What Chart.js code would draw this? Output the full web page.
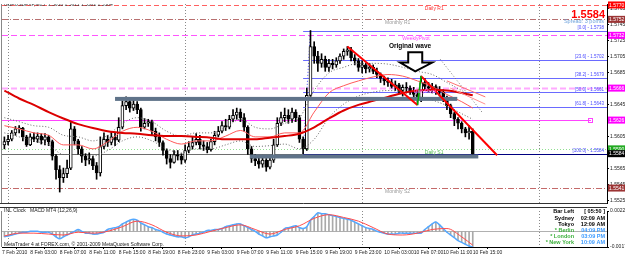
<!DOCTYPE html>
<html>
<head>
<meta charset="utf-8">
<title>GBPUSD M15</title>
<script src="https://cdn.jsdelivr.net/npm/chart.js@4.4.1/dist/chart.umd.min.js"></script>
<style>
  html, body { margin: 0; padding: 0; background: #fff; }
  #wrap { position: relative; width: 625px; height: 257px; overflow: hidden; background: #fff; }
  canvas { position: absolute; left: 0; }
  #priceChart { top: 0; }
  #macdChart { top: 207px; }
</style>
</head>
<body>
<div id="wrap">
  <canvas id="priceChart" width="625" height="207"></canvas>
  <canvas id="macdChart" width="625" height="50"></canvas>
</div>
<script>
// ---- data (one candle per half hour, x = bar index) ----
const candleOpen = [
  1.5595,1.5599,1.5602,1.5610,1.5615,1.5616,1.5605,1.5595,1.5605,1.5602,
  1.5606,1.5601,1.5605,1.5599,1.5581,1.5564,1.5554,1.5559,1.5566,1.5615,
  1.5600,1.5590,1.5581,1.5576,1.5578,1.5569,1.5560,1.5593,1.5602,1.5598,
  1.5605,1.5601,1.5617,1.5644,1.5649,1.5641,1.5646,1.5639,1.5617,1.5622,
  1.5624,1.5612,1.5605,1.5598,1.5588,1.5578,1.5573,1.5583,1.5581,1.5576,
  1.5588,1.5593,1.5598,1.5602,1.5595,1.5593,1.5589,1.5599,1.5607,1.5612,
  1.5619,1.5617,1.5627,1.5632,1.5636,1.5629,1.5617,1.5590,1.5578,1.5575,
  1.5571,1.5576,1.5567,1.5576,1.5595,1.5622,1.5629,1.5632,1.5627,1.5636,
  1.5629,1.5602,1.5590,1.5657,1.5718,1.5706,1.5697,1.5702,1.5692,1.5697,
  1.5695,1.5700,1.5706,1.5712,1.5714,1.5704,1.5700,1.5692,1.5695,1.5690,
  1.5692,1.5687,1.5683,1.5678,1.5675,1.5673,1.5668,1.5670,1.5663,1.5667,
  1.5666,1.5662,1.5658,1.5651,1.5673,1.5668,1.5666,1.5668,1.5663,1.5661,
  1.5653,1.5644,1.5634,1.5627,1.5622,1.5615,1.5610,1.5612
];
const candleHigh = [
  1.5605,1.5607,1.5613,1.5618,1.5619,1.5617,1.5607,1.5609,1.5610,1.5610,
  1.5609,1.5609,1.5607,1.5601,1.5583,1.5569,1.5566,1.5576,1.5623,1.5618,
  1.5602,1.5593,1.5584,1.5585,1.5581,1.5573,1.5605,1.5610,1.5607,1.5611,
  1.5610,1.5629,1.5650,1.5655,1.5651,1.5651,1.5649,1.5641,1.5628,1.5627,
  1.5626,1.5616,1.5610,1.5600,1.5590,1.5583,1.5588,1.5588,1.5584,1.5595,
  1.5599,1.5605,1.5609,1.5607,1.5600,1.5598,1.5602,1.5612,1.5618,1.5624,
  1.5627,1.5632,1.5639,1.5641,1.5640,1.5634,1.5619,1.5593,1.5583,1.5581,
  1.5582,1.5578,1.5581,1.5602,1.5629,1.5636,1.5641,1.5639,1.5641,1.5639,
  1.5632,1.5605,1.5666,1.5738,1.5724,1.5712,1.5709,1.5706,1.5702,1.5702,
  1.5704,1.5709,1.5715,1.5718,1.5717,1.5708,1.5703,1.5700,1.5697,1.5697,
  1.5695,1.5691,1.5685,1.5681,1.5679,1.5677,1.5675,1.5672,1.5670,1.5673,
  1.5669,1.5667,1.5663,1.5681,1.5678,1.5673,1.5672,1.5670,1.5668,1.5664,
  1.5656,1.5646,1.5636,1.5629,1.5624,1.5617,1.5619,1.5615
];
const candleLow = [
  1.5590,1.5595,1.5600,1.5607,1.5610,1.5600,1.5593,1.5594,1.5599,1.5598,
  1.5596,1.5595,1.5594,1.5576,1.5552,1.5536,1.5548,1.5554,1.5564,1.5595,
  1.5583,1.5573,1.5569,1.5571,1.5564,1.5552,1.5556,1.5590,1.5593,1.5595,
  1.5594,1.5599,1.5615,1.5639,1.5636,1.5638,1.5634,1.5612,1.5615,1.5618,
  1.5607,1.5600,1.5593,1.5582,1.5571,1.5566,1.5572,1.5576,1.5571,1.5573,
  1.5585,1.5590,1.5595,1.5590,1.5588,1.5585,1.5587,1.5595,1.5605,1.5610,
  1.5613,1.5615,1.5624,1.5627,1.5624,1.5612,1.5583,1.5573,1.5569,1.5566,
  1.5567,1.5562,1.5565,1.5573,1.5593,1.5619,1.5624,1.5622,1.5623,1.5624,
  1.5598,1.5584,1.5588,1.5655,1.5697,1.5687,1.5692,1.5687,1.5687,1.5690,
  1.5692,1.5697,1.5702,1.5707,1.5700,1.5695,1.5687,1.5685,1.5685,1.5686,
  1.5684,1.5679,1.5673,1.5670,1.5668,1.5666,1.5663,1.5660,1.5656,1.5661,
  1.5658,1.5653,1.5645,1.5649,1.5663,1.5661,1.5660,1.5658,1.5656,1.5649,
  1.5639,1.5629,1.5619,1.5615,1.5610,1.5605,1.5602,1.5582
];
const candleClose = [
  1.5599,1.5602,1.5610,1.5615,1.5616,1.5605,1.5595,1.5605,1.5602,1.5606,
  1.5601,1.5605,1.5599,1.5581,1.5564,1.5554,1.5559,1.5566,1.5615,1.5600,
  1.5590,1.5581,1.5576,1.5578,1.5569,1.5560,1.5593,1.5602,1.5598,1.5605,
  1.5601,1.5617,1.5644,1.5649,1.5641,1.5646,1.5639,1.5617,1.5622,1.5624,
  1.5612,1.5605,1.5598,1.5588,1.5578,1.5573,1.5583,1.5581,1.5576,1.5588,
  1.5593,1.5598,1.5602,1.5595,1.5593,1.5589,1.5599,1.5607,1.5612,1.5619,
  1.5617,1.5627,1.5632,1.5636,1.5629,1.5617,1.5590,1.5578,1.5575,1.5571,
  1.5576,1.5567,1.5576,1.5595,1.5622,1.5629,1.5632,1.5627,1.5636,1.5629,
  1.5602,1.5590,1.5657,1.5718,1.5706,1.5697,1.5702,1.5692,1.5697,1.5695,
  1.5700,1.5706,1.5712,1.5714,1.5704,1.5700,1.5692,1.5695,1.5690,1.5692,
  1.5687,1.5683,1.5678,1.5675,1.5673,1.5668,1.5670,1.5663,1.5667,1.5666,
  1.5662,1.5658,1.5651,1.5673,1.5668,1.5666,1.5668,1.5663,1.5661,1.5653,
  1.5644,1.5634,1.5627,1.5622,1.5615,1.5610,1.5612,1.5584
];

// moving averages / envelopes, read every 4th bar
const maIndex   = [0,4,8,12,16,20,24,28,32,36,40,44,48,52,56,60,64,68,72,76,80,84,88,92,96,100,104,108,112,116,120,124,127];
const slowMA    = [1.5663,1.5653,1.5645,1.5636,1.5628,1.5621,1.5616,1.5612,1.5610,1.5609,1.5607,1.5606,1.5606,1.5605,1.5604,1.5602,1.5602,1.5602,1.5604,1.5606,1.5609,1.5617,1.5628,1.5638,1.5645,1.5650,1.5655,1.5660,1.5663,1.5664,1.5663,1.5660,1.5657];
const fastMA    = [1.5619,1.5615,1.5610,1.5607,1.5595,1.5595,1.5590,1.5599,1.5612,1.5617,1.5612,1.5602,1.5596,1.5600,1.5600,1.5606,1.5613,1.5605,1.5605,1.5610,1.5610,1.5636,1.5660,1.5669,1.5675,1.5680,1.5683,1.5681,1.5675,1.5668,1.5658,1.5649,1.5641];
const envUpper  = [1.5629,1.5624,1.5619,1.5617,1.5607,1.5605,1.5600,1.5607,1.5622,1.5629,1.5624,1.5612,1.5606,1.5610,1.5610,1.5617,1.5627,1.5617,1.5615,1.5622,1.5629,1.5663,1.5685,1.5692,1.5697,1.5697,1.5696,1.5692,1.5687,1.5683,1.5673,1.5663,1.5656];
const envLower  = [1.5610,1.5605,1.5600,1.5595,1.5583,1.5583,1.5581,1.5588,1.5600,1.5605,1.5600,1.5590,1.5585,1.5590,1.5590,1.5595,1.5600,1.5593,1.5594,1.5596,1.5590,1.5602,1.5629,1.5646,1.5656,1.5661,1.5663,1.5661,1.5656,1.5651,1.5644,1.5634,1.5627];

// MACD (12,26,9): main per bar, signal every 4th bar
const macdMain = [
  -0.0006,-0.0005,-0.0004,-0.0003,-0.0002,-0.0001,-0.0001,0,0,0,
  -0.0001,-0.0001,-0.0001,-0.0003,-0.0006,-0.0008,-0.0006,-0.0004,-0.0002,0,
  0.0002,0,-0.0002,-0.0002,-0.0003,-0.0003,-0.0002,-0.0001,0.0002,0.0003,
  0.0004,0.0005,0.0008,0.0010,0.0012,0.0013,0.0012,0.0009,0.0007,0.0005,
  0.0004,0.0002,0.0001,-0.0001,-0.0003,-0.0004,-0.0005,-0.0006,-0.0006,-0.0007,
  -0.0006,-0.0004,-0.0003,-0.0002,-0.0001,0.0001,0.0001,0.0002,0.0002,0.0003,
  0.0005,0.0006,0.0007,0.0008,0.0008,0.0006,0.0004,0.0002,0,-0.0003,
  -0.0005,-0.0007,-0.0006,-0.0005,-0.0004,-0.0001,0.0003,0.0004,0.0005,0.0006,
  0.0004,0.0003,0.0005,0.0012,0.0016,0.0020,0.0019,0.0019,0.0018,0.0017,
  0.0016,0.0015,0.0014,0.0013,0.0012,0.0010,0.0008,0.0006,0.0004,0.0003,
  0.0002,0,-0.0001,-0.0002,-0.0003,-0.0003,-0.0003,-0.0002,-0.0002,-0.0002,
  -0.0002,-0.0002,-0.0002,-0.0002,0.0002,0.0005,0.0008,0.0010,0.0007,0.0003,
  -0.0001,-0.0004,-0.0007,-0.0010,-0.0012,-0.0014,-0.0016,-0.0017
];
const macdSignal = [-0.0005,-0.0002,-0.0002,-0.0003,-0.0004,-0.0001,-0.0002,0,0.0005,0.0011,0.0007,-0.0001,-0.0005,-0.0004,0,0.0004,0.0007,0.0002,-0.0003,0.0002,0.0006,0.0014,0.0018,0.0015,0.0011,0.0004,-0.0003,-0.0004,-0.0002,0.0002,0.0003,-0.0006,-0.0015];
const macdTicks = [0.0022, -0.0017];

// levels
const pivotNames  = ['Daily R1', 'Monthly R1', 'WeeklyPivot', 'DailyPivot', 'Daily S1', 'Monthly S2'];
const pivotValues = [1.5770, 1.5752, 1.5732, 1.5666, 1.5590, 1.5541];
const hLineValue = 1.5626;
const fibLevels = [0, 23.6, 38.2, 50, 61.8, 100];
const fibHigh = 1.5738, fibLow = 1.5584;

// axes
const priceTicks = [1.5525,1.5545,1.5565,1.5585,1.5605,1.5625,1.5645,1.5665,1.5685,1.5705,1.5725,1.5745,1.5765];
const X_MIN = -0.65, X_MAX = 163.4;
const daySeparators = [1, 49, 97, 145];
const timeTickIndex = [X_MIN, 7, 15, 23, 31, 39, 47, 55, 63, 71, 79, 87, 95, 103, 111, 119, 127];
const timeTickLabels = ['7 Feb 2010','8 Feb 03:00','8 Feb 07:00','8 Feb 11:00','8 Feb 15:00','8 Feb 19:00','8 Feb 23:00',
  '9 Feb 03:00','9 Feb 07:00','9 Feb 11:00','9 Feb 15:00','9 Feb 19:00','9 Feb 23:00',
  '10 Feb 03:00','10 Feb 07:00','10 Feb 11:00','10 Feb 15:00'];

const clockNames = ['Bar Left', 'Sydney', 'Tokyo', '* Berlin', '* London', '* New York'];
const clockTimes = ['[ 05:50 ]', '02:09 AM', '12:09 AM', '04:09 PM', '03:09 PM', '10:09 AM'];

// ---- styles ----
const FONT = "'Liberation Sans', 'DejaVu Sans', Arial, sans-serif";
Chart.defaults.font.family = FONT;
Chart.defaults.font.size = 5;
Chart.defaults.color = '#000';
Chart.defaults.animation = false;

const pivotStyles = [
  { line: '#ff6060', dash: [5, 3], text: '#ff3030', box: '#ff0000', at: 114 },
  { line: '#b87070', dash: [6, 2, 1, 2], text: '#9a9a9a', box: '#9c3434', at: 103.2 },
  { line: '#ff55ff', dash: [6, 3], text: '#ff44ff', box: '#ff00ff', at: 107.9 },
  { line: '#ffaaff', dash: [6, 3], text: '#ff66ff', box: '#ff00ff', at: 111, width: 2 },
  { line: '#8fe08f', dash: [1, 2], text: '#55bb55', box: '#22aa22', at: 114 },
  { line: '#c46a6a', dash: [6, 2, 1, 2], text: '#9a9a9a', box: '#9c3434', at: 103.2 }
];

function seg(ctx, x0, y0, x1, y1, color, w, dash) {
  ctx.save();
  ctx.beginPath();
  ctx.strokeStyle = color;
  ctx.lineWidth = w || 1;
  ctx.setLineDash(dash || []);
  ctx.moveTo(x0, y0);
  ctx.lineTo(x1, y1);
  ctx.stroke();
  ctx.restore();
}
function txt(ctx, s, x, y, size, color, align, base, weight) {
  ctx.save();
  ctx.font = (weight || 'normal') + ' ' + size + 'px ' + FONT;
  ctx.fillStyle = color;
  ctx.textAlign = align || 'left';
  ctx.textBaseline = base || 'middle';
  ctx.fillText(s, x, y);
  ctx.restore();
}
const crisp = v => Math.round(v) + 0.5;

// ---- price panel overlay ----
const priceOverlay = {
  id: 'priceOverlay',
  beforeDatasetsDraw(chart) {
    const { ctx, chartArea: a, scales: { x, y } } = chart;
    ctx.save();
    ctx.beginPath(); ctx.rect(a.left, a.top, a.width, a.height); ctx.clip();

    daySeparators.forEach(i => {
      const px = crisp(x.getPixelForValue(i));
      seg(ctx, px, a.top, px, a.bottom, '#8a8a8a', 1, [1, 2]);
    });

    pivotValues.forEach((v, k) => {
      const st = pivotStyles[k];
      const py = crisp(y.getPixelForValue(v));
      seg(ctx, a.left, py, a.right, py, st.line, st.width || 1, st.dash);
    });

    const hy = crisp(y.getPixelForValue(hLineValue));
    seg(ctx, a.left, hy, a.right - 16, hy, '#ff44ff', 1);
    ctx.strokeStyle = '#ff44ff';
    ctx.strokeRect(a.right - 18.5, hy - 2, 4, 4);

    const bid = candleClose[candleClose.length - 1];
    const by = crisp(y.getPixelForValue(bid));
    seg(ctx, a.left, by, a.right, by, '#6e6e6e', 1);

    // fibonacci
    const fx = x.getPixelForValue(81);
    seg(ctx, fx, y.getPixelForValue(fibLow), x.getPixelForValue(83), y.getPixelForValue(fibHigh), '#4040ff', 1, [1, 2]);
    fibLevels.forEach(l => {
      const v = fibHigh - (fibHigh - fibLow) * l / 100;
      const py = crisp(y.getPixelForValue(v));
      seg(ctx, fx, py, a.right, py, l === 100 ? '#000080' : '#6a6aff', 1);
    });
    ctx.restore();
  },
  afterDatasetsDraw(chart) {
    const { ctx, chartArea: a, scales: { x, y } } = chart;
    const P = (i, v) => [x.getPixelForValue(i), y.getPixelForValue(v)];
    ctx.save();
    ctx.beginPath(); ctx.rect(a.left, a.top, a.width, a.height); ctx.clip();

    // zones
    ctx.fillStyle = '#5f7389';
    [[30.0, 122.8, 1.5655, 1.5650], [66.6, 128.5, 1.5583, 1.5578]].forEach(b => {
      const [x0, y0] = P(b[0], b[2]);
      const [x1, y1] = P(b[1], b[3]);
      ctx.fillRect(x0, y0, x1 - x0, y1 - y0);
    });

    // projections right of the last bar
    let p0 = P(118.2, 1.5702), p1 = P(129.5, 1.5636);
    seg(ctx, p0[0], p0[1], p1[0], p1[1], '#777', 1, [1, 2]);
    p0 = P(120.0, 1.5675); p1 = P(130.4, 1.5655);
    seg(ctx, p0[0], p0[1], p1[0], p1[1], '#ff7070', 1);
    p0 = P(120.9, 1.5666); p1 = P(130.4, 1.5646);
    seg(ctx, p0[0], p0[1], p1[0], p1[1], '#ff9090', 1);

    // trend lines
    p0 = P(93, 1.5718); p1 = P(112, 1.5645);
    seg(ctx, p0[0], p0[1], p1[0], p1[1], '#ff0000', 2);
    p0 = P(113, 1.5681); p1 = P(133.6, 1.5582);
    seg(ctx, p0[0], p0[1], p1[0], p1[1], '#ff0000', 2);
    p0 = P(112, 1.5645); p1 = P(113, 1.5681);
    seg(ctx, p0[0], p0[1], p1[0], p1[1], '#00b000', 1.5);

    // level labels
    pivotValues.forEach((v, k) => {
      const st = pivotStyles[k];
      txt(ctx, pivotNames[k], x.getPixelForValue(st.at), y.getPixelForValue(v) + 1, 5, st.text, 'left', 'top');
    });
    fibLevels.forEach(l => {
      const v = fibHigh - (fibHigh - fibLow) * l / 100;
      txt(ctx, '[' + l.toFixed(1) + '] - ' + v.toFixed(4), a.right - 3, y.getPixelForValue(v) - 0.5, 4.5, '#4a4aff', 'right', 'bottom');
    });

    // annotation: arrow + caption
    const arrow = [[109.5, 1.5711], [113.3, 1.5711], [113.3, 1.5698], [116.0, 1.5698], [111.4, 1.5687], [107.3, 1.5698], [109.5, 1.5698]];
    ctx.beginPath();
    arrow.forEach((pt, k) => { const q = P(pt[0], pt[1]); k ? ctx.lineTo(q[0], q[1]) : ctx.moveTo(q[0], q[1]); });
    ctx.closePath();
    ctx.fillStyle = '#fff'; ctx.fill();
    ctx.lineWidth = 2; ctx.strokeStyle = '#000'; ctx.setLineDash([]); ctx.stroke();
    const c = P(110.0, 1.5718);
    txt(ctx, 'Original wave', c[0], c[1], 6.5, '#000', 'center', 'middle', 'bold');

    // header texts
    txt(ctx, 'GBPUSDFXF,M15  1.5610 1.5611 1.5582 1.5584', a.left + 2, 5, 5, '#333', 'left', 'middle');
    txt(ctx, candleClose[candleClose.length - 1].toFixed(4), a.right - 2, 18, 11, '#ff0000', 'right', 'alphabetic', 'bold');
    txt(ctx, 'Spread: 3 points', a.right - 3, 21.5, 5.5, '#6fa3dc', 'right', 'middle');
    ctx.restore();

    // frame
    seg(ctx, a.left - 0.5, a.top, a.left - 0.5, a.bottom, '#888', 1);
    seg(ctx, 0, a.bottom + 0.5, a.right, a.bottom + 0.5, '#333', 1);
  },
  afterDraw(chart) {
    const { ctx, chartArea: a, scales: { y } } = chart;
    const box = (v, color) => {
      const py = y.getPixelForValue(v);
      ctx.fillStyle = color;
      ctx.fillRect(a.right + 1, py - 3.5, 17, 7);
      txt(ctx, v.toFixed(4), a.right + 2, py + 0.3, 5, '#fff', 'left', 'middle');
    };
    ctx.save();
    pivotValues.forEach((v, k) => box(v, pivotStyles[k].box));
    box(hLineValue, '#ff00ff');
    box(candleClose[candleClose.length - 1], '#000');
    ctx.restore();
  }
};

const bars = candleClose.map((c, i) => i);
new Chart(document.getElementById('priceChart'), {
  type: 'bar',
  data: {
    datasets: [
      { type: 'line', data: maIndex.map((i, k) => ({ x: i, y: slowMA[k] })), borderColor: '#dc0000', borderWidth: 2, pointRadius: 0, cubicInterpolationMode: 'monotone', order: 0 },
      { type: 'line', data: maIndex.map((i, k) => ({ x: i, y: fastMA[k] })), borderColor: '#ff5a5a', borderWidth: 1, pointRadius: 0, cubicInterpolationMode: 'monotone', order: 1 },
      { type: 'line', data: maIndex.map((i, k) => ({ x: i, y: envUpper[k] })), borderColor: '#666', borderWidth: 1, borderDash: [1, 2], pointRadius: 0, cubicInterpolationMode: 'monotone', order: 1 },
      { type: 'line', data: maIndex.map((i, k) => ({ x: i, y: envLower[k] })), borderColor: '#666', borderWidth: 1, borderDash: [1, 2], pointRadius: 0, cubicInterpolationMode: 'monotone', order: 1 },
      { data: bars.map(i => ({ x: i, y: [candleOpen[i], candleClose[i]] })), grouped: false, barThickness: 3, borderSkipped: false,
        backgroundColor: bars.map(i => candleClose[i] >= candleOpen[i] ? '#ffffff' : '#000000'),
        borderColor: '#000', borderWidth: 1, minBarLength: 1, order: 2 },
      { data: bars.map(i => ({ x: i, y: [candleLow[i], candleHigh[i]] })), grouped: false, barThickness: 1, backgroundColor: '#000', order: 3 }
    ]
  },
  options: {
    responsive: false,
    devicePixelRatio: 1,
    layout: { padding: { left: 2, top: 1, right: 0, bottom: 1 } },
    plugins: { legend: { display: false }, tooltip: { enabled: false } },
    scales: {
      x: { type: 'linear', min: X_MIN, max: X_MAX, offset: false, display: false },
      y: {
        position: 'right', min: 1.55223, max: 1.57712, beginAtZero: false,
        afterFit: s => { s.width = 18; },
        afterBuildTicks: s => { s.ticks = priceTicks.map(v => ({ value: v })); },
        grid: { drawOnChartArea: false, tickLength: 2, color: '#000' },
        border: { color: '#000' },
        ticks: { padding: 1, font: { size: 5 }, color: '#222', callback: v => v.toFixed(4) }
      }
    }
  },
  plugins: [priceOverlay]
});

// ---- MACD panel ----
const macdOverlay = {
  id: 'macdOverlay',
  beforeDatasetsDraw(chart) {
    const { ctx, chartArea: a, scales: { x, y } } = chart;
    daySeparators.forEach(i => {
      const px = crisp(x.getPixelForValue(i));
      seg(ctx, px, a.top, px, a.bottom, '#8a8a8a', 1, [1, 2]);
    });
    const zy = crisp(y.getPixelForValue(0));
    seg(ctx, a.left, zy, a.right, zy, '#b0b0b0', 1);
  },
  afterDraw(chart) {
    const { ctx, chartArea: a } = chart;
    ctx.fillStyle = '#333';
    ctx.fillRect(0, 0, a.right, 1);
    seg(ctx, a.left - 0.5, a.top, a.left - 0.5, a.bottom, '#888', 1);
    txt(ctx, 'INL Clock', 4, 4, 5, '#222', 'left', 'middle');
    txt(ctx, 'MACD MT4 (12,26,9)', 30, 4, 5, '#222', 'left', 'middle');
    txt(ctx, 'MetaTrader 4 at FOREX.com, \u00a9 2001-2009 MetaQuotes Software Corp.', 4, 37.5, 5, '#222', 'left', 'middle');
    const rows = [4, 11, 17, 23, 29, 35.5];
    clockNames.forEach((n, k) => {
      const sessionRow = n.charAt(0) === '*';
      txt(ctx, n, 574, rows[k], 5.5, sessionRow ? '#3cb03c' : '#000', 'right', 'middle', 'bold');
      txt(ctx, clockTimes[k], 605, rows[k], 5.5, sessionRow ? '#3d9bff' : '#000', 'right', 'middle', 'bold');
    });
  }
};

new Chart(document.getElementById('macdChart'), {
  type: 'bar',
  data: {
    datasets: [
      { type: 'line', data: maIndex.map((i, k) => ({ x: i, y: macdSignal[k] })), borderColor: '#ff4b4b', borderWidth: 1, pointRadius: 0, cubicInterpolationMode: 'monotone', order: 0 },
      { type: 'line', data: bars.map(i => ({ x: i, y: macdMain[i] })), borderColor: '#54a8ff', borderWidth: 1.5, pointRadius: 0, tension: 0.3, order: 1 },
      { data: bars.map(i => ({ x: i, y: macdMain[i] })), barThickness: 1, backgroundColor: '#a9a9a9', grouped: false, order: 2 }
    ]
  },
  options: {
    responsive: false,
    devicePixelRatio: 1,
    layout: { padding: { left: 2, top: 1, right: 0, bottom: 0 } },
    plugins: { legend: { display: false }, tooltip: { enabled: false } },
    scales: {
      x: {
        type: 'linear', min: X_MIN, max: X_MAX, offset: false,
        afterFit: s => { s.height = 10; },
        afterBuildTicks: s => { s.ticks = timeTickIndex.map(v => ({ value: v })); },
        grid: { drawOnChartArea: false, tickLength: 2, color: '#000' },
        border: { color: '#000' },
        ticks: { autoSkip: false, maxRotation: 0, minRotation: 0, align: 'start', padding: 1, font: { size: 5 }, color: '#222',
          callback: (v, i) => timeTickLabels[i] }
      },
      y: {
        position: 'right', min: -0.0017, max: 0.0022,
        afterFit: s => { s.width = 18; },
        afterBuildTicks: s => { s.ticks = macdTicks.map(v => ({ value: v })); },
        grid: { drawOnChartArea: false, tickLength: 2, color: '#000' },
        border: { color: '#000' },
        ticks: { padding: 1, font: { size: 5 }, color: '#222', callback: v => v.toFixed(4) }
      }
    }
  },
  plugins: [macdOverlay]
});
</script>
</body>
</html>
